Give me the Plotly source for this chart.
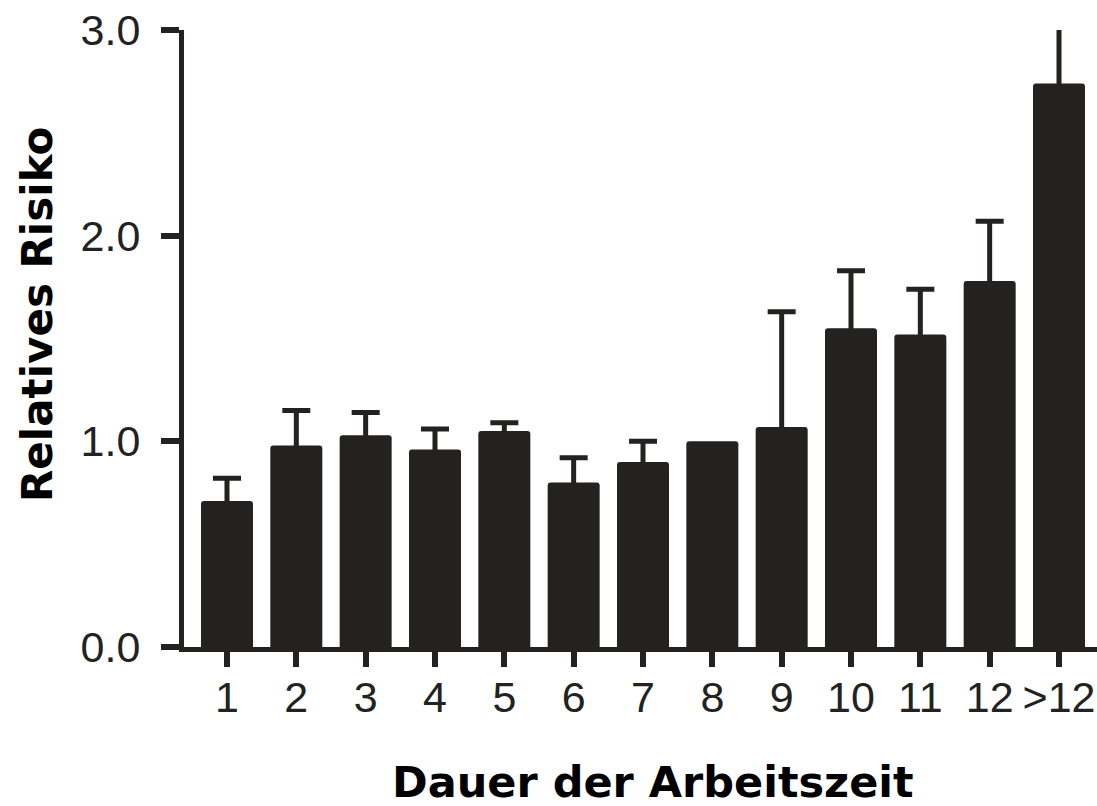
import plotly.graph_objects as go

categories = ["1", "2", "3", "4", "5", "6", "7", "8", "9", "10", "11", "12", ">12"]
relative_risk = [0.71, 0.98, 1.03, 0.96, 1.05, 0.80, 0.90, 1.00, 1.07, 1.55, 1.52, 1.78, 2.74]
upper_ci = [0.82, 1.15, 1.14, 1.06, 1.09, 0.92, 1.00, None, 1.63, 1.83, 1.74, 2.07, 3.08]
y_ticks = [0.0, 1.0, 2.0, 3.0]
y_tick_labels = ["0.0", "1.0", "2.0", "3.0"]

# upper whisker only; the lower end (and whiskers without a CI) stay hidden inside the bar
err_plus = [-0.04 if u is None else u - v for u, v in zip(upper_ci, relative_risk)]
err_minus = [0.08 for _ in upper_ci]

W, H = 1097, 806
L, R, T = 184, 0, 30
B = H - 647
PW, PH = W - L - R, H - T - B

fig = go.Figure()
fig.add_trace(go.Bar(
    x=categories,
    y=relative_risk,
    marker=dict(color="#232220", line=dict(width=0), cornerradius=3),
    error_y=dict(type="data", symmetric=False, array=err_plus,
                 arrayminus=err_minus,
                 color="#232220", thickness=5, width=14),
    cliponaxis=True,
    showlegend=False,
))

tickfont = dict(family="Liberation Sans, Arial, sans-serif", size=43, color="#222222")

fig.update_layout(
    width=W, height=H,
    margin=dict(l=L, r=R, t=T, b=B, autoexpand=False),
    paper_bgcolor="white", plot_bgcolor="white",
    bargap=0.25,
    xaxis=dict(
        type="category", range=[-0.62, 12.548],
        showline=True, linewidth=5, linecolor="#232220",
        ticks="outside", ticklen=15, tickwidth=6, tickcolor="#232220",
        showgrid=False, zeroline=False, tickfont=tickfont,
        ticklabelstandoff=-7, ticklabeloverflow="allow",
    ),
    yaxis=dict(
        range=[0, 3.0], tickvals=y_ticks, ticktext=y_tick_labels,
        showline=True, linewidth=5, linecolor="#232220",
        ticks="outside", ticklen=18, tickwidth=6, tickcolor="#232220",
        showgrid=False, zeroline=False, tickfont=tickfont,
        ticklabelstandoff=12, ticklabeloverflow="allow",
    ),
    annotations=[
        dict(text="<b>Relatives Risiko</b>", xref="paper", yref="paper",
             x=(37 - L) / PW, y=(H - B - 315) / PH,
             xanchor="center", yanchor="middle", textangle=-90, showarrow=False,
             font=dict(family="DejaVu Sans, Verdana, sans-serif", size=42, color="black")),
        dict(text="<b>Dauer der Arbeitszeit</b>", xref="paper", yref="paper",
             x=(653 - L) / PW, y=(H - B - 782) / PH,
             xanchor="center", yanchor="middle", showarrow=False,
             font=dict(family="DejaVu Sans, Verdana, sans-serif", size=43, color="black")),
    ],
)

fig.write_html(
    "out.html",
    config={"displayModeBar": False},
    post_script="document.body.style.margin='0';document.body.style.overflow='hidden';",
)
